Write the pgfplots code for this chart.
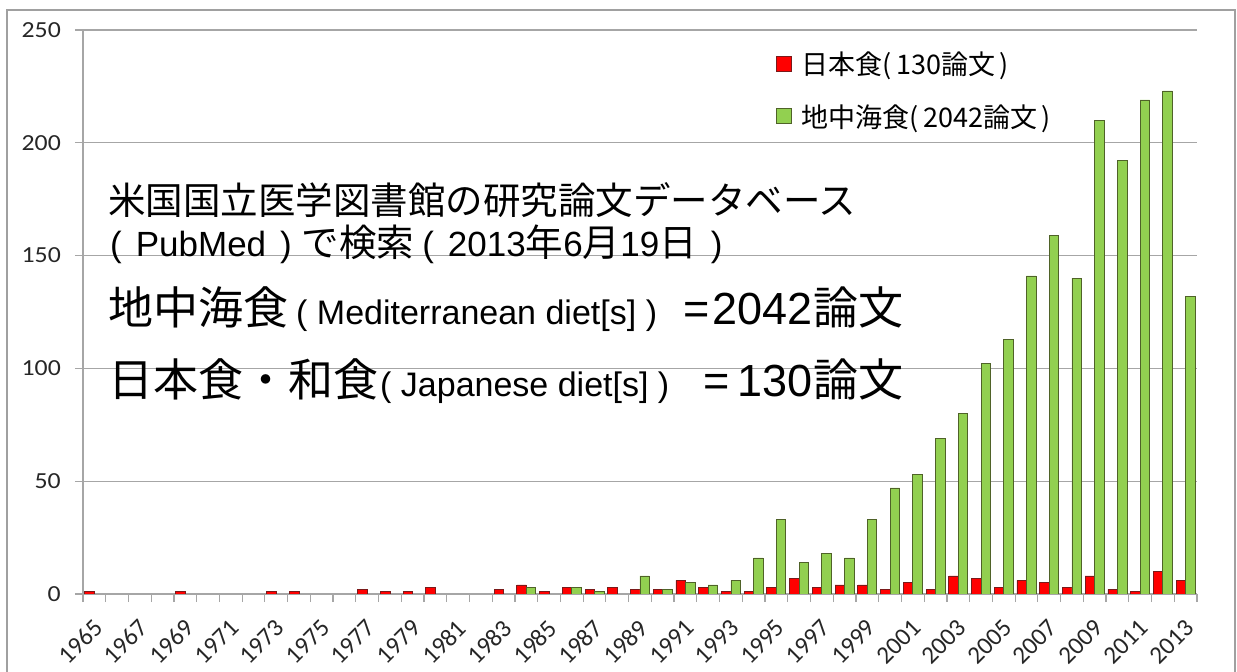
\documentclass[border=0pt]{standalone}
\usepackage{fontspec}
\usepackage{pgfplots}
\usepackage{pgfplotstable}
\pgfplotsset{compat=1.18}
\setmainfont{Liberation Sans}
\newfontfamily\jp{Noto Sans CJK JP}
\newfontfamily\carl{Carlito}
\newfontfamily\carlw[FakeStretch=1.12]{Carlito}

\definecolor{jpred}{HTML}{FF0000}
\definecolor{jpredline}{HTML}{7A1A1A}
\definecolor{medgreen}{HTML}{92D050}
\definecolor{medgreenline}{HTML}{4F6228}
\definecolor{gridgray}{HTML}{A6A6A6}
\definecolor{framegray}{HTML}{A0A0A0}

% idx 0 = 1965 ... idx 48 = 2013
\pgfplotstableread{
idx jp med
0 1 0
1 0 0
2 0 0
3 0 0
4 1 0
5 0 0
6 0 0
7 0 0
8 1 0
9 1 0
10 0 0
11 0 0
12 2 0
13 1 0
14 1 0
15 3 0
16 0 0
17 0 0
18 2 0
19 4 3
20 1 0
21 3 3
22 2 1
23 3 0
24 2 8
25 2 2
26 6 5
27 3 4
28 1 6
29 1 16
30 3 33
31 7 14
32 3 18
33 4 16
34 4 33
35 2 47
36 5 53
37 2 69
38 8 80
39 7 102
40 3 113
41 6 141
42 5 159
43 3 140
44 8 210
45 2 192
46 1 219
47 10 223
48 6 132
}\data

\begin{document}
\begin{tikzpicture}[x=1pt,y=1pt]
\draw[framegray, line width=2pt] (7,-5) -- (7,662) -- (1235,662) -- (1235,-5);
\begin{axis}[
  at={(83pt,78pt)}, anchor=south west,
  scale only axis, width=1114pt, height=564pt,
  ybar, bar width=9.5pt, ybar=0pt,
  xmin=-0.5, xmax=48.5, ymin=0, ymax=250,
  enlarge x limits=false,
  ytick={0,50,...,250},
  xtick={0,2,...,48},
  xticklabels={1965,1967,1969,1971,1973,1975,1977,1979,1981,1983,1985,1987,1989,1991,1993,1995,1997,1999,2001,2003,2005,2007,2009,2011,2013},
  minor xtick={-0.5,0.5,...,48.5},
  axis x line*=bottom, axis y line*=left,
  axis line style={gridgray, line width=1.2pt, -},
  ymajorgrids, grid style={gridgray, line width=1.2pt},
  tick align=outside,
  major tick length=8pt, minor tick length=8pt,
  major x tick style={draw=none},
  minor x tick style={gridgray, line width=1.2pt},
  major y tick style={gridgray, line width=1.2pt},
  /pgf/number format/assume math mode=true,
  ticklabel style={text=black!85, inner sep=0pt},
  xticklabel style={font=\carl\fontsize{25}{25}\selectfont, xshift=4pt, yshift=-22pt, rotate=45, anchor=east},
  yticklabel style={font=\carlw\fontsize{23}{23}\selectfont, anchor=east, xshift=-14pt},
  unbounded coords=discard,
  y filter/.expression={y==0 ? nan : y},
  legend image code/.code={\draw[#1, line width=0.8pt] (0pt,-7pt) rectangle (15pt,8pt);},
  legend style={at={(0.622,0.961)}, anchor=north west, draw=none, fill=none,
    inner sep=0pt, row sep=28pt,
    font=\jp\fontsize{27}{29}\selectfont,
    /tikz/every odd column/.append style={column sep=10pt},
    nodes={inner sep=0pt}},
  legend cell align=left,
]
\addplot[fill=jpred, draw=jpredline, line width=0.8pt] table[x=idx, y=jp] {\data};
\addplot[fill=medgreen, draw=medgreenline, line width=0.8pt] table[x=idx, y=med] {\data};
\legend{日本食(\,130論文\,), 地中海食(\,2042論文\,)}
\end{axis}

% text block
\node[anchor=base west, inner sep=0pt, font=\jp\fontsize{37.5}{40}\selectfont] at (108,457) {米国国立医学図書館の研究論文データベース};
\node[anchor=base west, inner sep=0pt, font=\fontsize{35}{40}\selectfont] at (110,415) {(\hspace{14pt}PubMed\hspace{14pt})\hspace{10pt}{\jp\fontsize{37.5}{40}\selectfont で検索}\hspace{8pt}(\hspace{14pt}2013{\jp\fontsize{37.5}{40}\selectfont 年}6{\jp\fontsize{37.5}{40}\selectfont 月}19{\jp\fontsize{37.5}{40}\selectfont 日}\hspace{14pt})};

\node[anchor=base west, inner sep=0pt, font=\jp\fontsize{45}{48}\selectfont] at (108,347) {地中海食};
\node[anchor=base west, inner sep=0pt, font=\fontsize{34}{36}\selectfont] at (296,347) {( Mediterranean diet[s] )};
\node[anchor=base west, inner sep=0pt, font=\fontsize{45}{48}\selectfont] at (683,347) {=};
\node[anchor=base east, inner sep=0pt, font=\fontsize{45}{48}\selectfont] at (813,347) {2042};
\node[anchor=base west, inner sep=0pt, font=\jp\fontsize{45}{48}\selectfont] at (813,347) {論文};

\node[anchor=base west, inner sep=0pt, font=\jp\fontsize{45}{48}\selectfont] at (108,275) {日本食・和食};
\node[anchor=base west, inner sep=0pt, font=\fontsize{34}{36}\selectfont] at (380,275) {( Japanese diet[s] )};
\node[anchor=base west, inner sep=0pt, font=\fontsize{45}{48}\selectfont] at (703,275) {=};
\node[anchor=base east, inner sep=0pt, font=\fontsize{45}{48}\selectfont] at (813,275) {130};
\node[anchor=base west, inner sep=0pt, font=\jp\fontsize{45}{48}\selectfont] at (813,275) {論文};

\pgfresetboundingbox
\useasboundingbox (0,0) rectangle (1237,672);
\end{tikzpicture}
\end{document}
